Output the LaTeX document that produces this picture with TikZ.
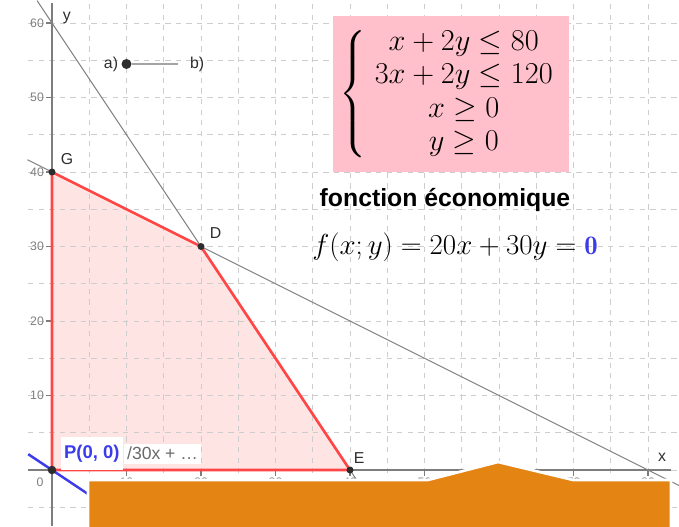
\documentclass[tikz,border=0pt]{standalone}
\usepackage{fontspec}
\setsansfont{Liberation Sans}
\usepackage{amsmath}
\usetikzlibrary{positioning, calc}
\definecolor{gridgray}{RGB}{205, 205, 205}
\definecolor{axisgray}{RGB}{125, 125, 125}
\definecolor{linegray}{RGB}{130, 130, 130}
\definecolor{regionred}{RGB}{255, 70, 70}
\definecolor{regionbg}{RGB}{255, 228, 228}
\definecolor{boxpink}{RGB}{255, 192, 203}
\definecolor{ptblue}{RGB}{60, 60, 235}
\definecolor{ptdark}{RGB}{45, 45, 45}
\definecolor{coverorange}{RGB}{227, 132, 19}

\begin{document}
\begin{tikzpicture}[x=0.149cm, y=0.149cm,
    pt/.style={circle, fill=ptdark, minimum size=0.14cm,
               inner sep=0pt},
    lbl/.style={font=\sffamily\small, text=ptdark, inner sep=1pt},
    ticklbl/.style={font=\sffamily\scriptsize, text=axisgray,
                    inner sep=1pt},
    gridline/.style={gridgray, dashed, line width=0.5pt},
    cline/.style={linegray, line width=0.6pt},
]
\useasboundingbox (-6.98, -7.52) rectangle (84.16, 63.09);

% -- Feasible region (fill) --
\coordinate (O) at (0, 0);
\coordinate (G) at (0, 40);
\coordinate (D) at (20, 30);
\coordinate (E) at (40, 0);
\fill[regionbg] (O) -- (G) -- (D) -- (E) -- cycle;

% -- Grid --
\foreach \gy in {-5, 0, ..., 60}
    \draw[gridline] (-3.2, \gy) -- (84.16, \gy);
\foreach \gx in {5, 10, ..., 80}
    \draw[gridline] (\gx, -7.52) -- (\gx, 63.09);

% -- Axes --
\coordinate (xa) at (-3.2, 0);
\coordinate (xb) at (83.1, 0);
\coordinate (ya) at (0, -7.52);
\coordinate (yb) at (0, 62.7);
\draw[axisgray, line width=0.9pt] (xa) -- (xb);
\draw[axisgray, line width=0.9pt] (ya) -- (yb);
\foreach \t in {10, 20, ..., 60} {
    \draw[axisgray, line width=0.6pt] (-0.8, \t) -- (0, \t);
    \node[ticklbl, left] at (-0.8, \t) {\t};
}
\foreach \t in {10, 20, ..., 80} {
    \draw[axisgray, line width=0.6pt] (\t, 0) -- (\t, -0.8);
    \node[ticklbl, below] at (\t, -0.8) {\t};
}
\node[ticklbl] (zero) at (-1.6, -1.6) {0};
\node[lbl] (ylab) at (2.0, 60.7) {y};
\node[lbl] (xlab) at (81.9, 1.7) {x};

% -- Constraint lines --
\coordinate (L1a) at (-2, 63);
\coordinate (L1b) at (44, -6);
\coordinate (L2a) at (-3.3, 41.65);
\coordinate (L2b) at (84.16, -2.08);
\draw[cline] (L1a) -- (L1b);
\draw[cline] (L2a) -- (L2b);

% -- Region edges --
\draw[regionred, line width=1.5pt, line join=round]
    (O) -- (G) -- (D) -- (E) -- cycle;

% -- Level line through the origin --
\coordinate (B1) at (-3.2, 2.13);
\coordinate (B2) at (8, -5.33);
\draw[ptblue, line width=1.4pt] (B1) -- (B2);

% -- Label of P --
\node[fill=white, font=\sffamily\bfseries\fontsize{10.5}{12}\selectfont,
      text=ptblue, inner xsep=2pt, minimum height=0.66cm,
      anchor=west] (Plab) at (1.1, 2.2) {P(0, 0)};
\node[fill=white, font=\sffamily\fontsize{10}{12}\selectfont,
      text=axisgray!85!black, inner sep=2pt,
      right=0pt of Plab] (flab) {/30x + \dots};

% -- Points --
\node[pt] (Gp) at (G) {};
\node[pt] (Dp) at (D) {};
\node[pt] (Ep) at (E) {};
\node[pt, minimum size=0.17cm] (P) at (O) {};
\node[lbl, above right=0.06cm and 0.08cm of Gp] {G};
\node[lbl, above right=0.06cm and 0.08cm of Dp] {D};
\node[lbl, above right=0.04cm and -0.02cm of Ep] {E};

% -- Slider --
\node[pt, minimum size=0.2cm] (sa) at (10, 54.5) {};
\coordinate (sb) at (16.9, 54.5);
\draw[gridgray!80!black, line width=0.6pt] (sa) -- (sb);
\node[lbl, left=0.02cm of sa] (alab) {a)};
\node[lbl, right=0.2cm of sb] (blab) {b)};

% -- System of constraints --
\node[fill=boxpink, minimum width=4.56cm, minimum height=3.12cm,
      font=\fontsize{16}{19}\selectfont] (sys) at (53.6, 50.5)
    {$\left\{\begin{array}{c}
        x+2y\leq 80\\
        3x+2y\leq 120\\
        x\geq 0\\
        y\geq 0
    \end{array}\right.$};

% -- Objective function --
\node[font=\sffamily\bfseries\fontsize{14.1}{17}\selectfont]
    (fe) at (52.75, 36.24) {fonction économique};
\node[font=\fontsize{16}{19}\selectfont] (fx) at (54.1, 29.9)
    {\scalebox{0.953}{$f(x;y)=20x+30y=\textcolor{ptblue}{\mathbf{0}}$}};

% -- Orange cover --
\draw[white, line width=1.5pt, fill=coverorange]
    (4.83, -7.7) -- (4.83, -1.34) -- (50.47, -1.34)
    -- (59.87, 1.07) -- (69.93, -1.34) -- (83.09, -1.34)
    -- (83.09, -7.7);

\end{tikzpicture}
\end{document}
